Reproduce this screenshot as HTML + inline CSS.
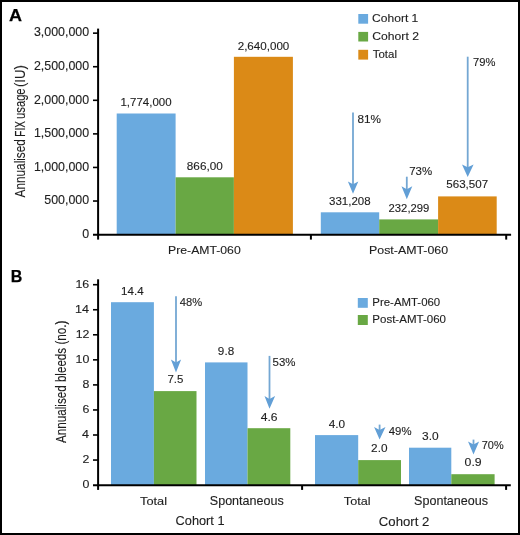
<!DOCTYPE html>
<html><head><meta charset="utf-8"><style>
html,body{margin:0;padding:0;background:#fff;}
svg{display:block;will-change:transform;}
text{font-family:"Liberation Sans",sans-serif;fill:#1e1e1e;stroke:#1e1e1e;stroke-width:0.12px;}
</style></head><body>
<svg width="520" height="535" viewBox="0 0 520 535">
<rect x="0" y="0" width="520" height="535" fill="#fff"/>
<rect x="116.7" y="113.5" width="58.90" height="121.10" fill="#6aaadf"/>
<rect x="175.6" y="177.3" width="58.30" height="57.30" fill="#69a844"/>
<rect x="233.9" y="56.8" width="59.00" height="177.80" fill="#db8a17"/>
<rect x="320.8" y="212.3" width="58.40" height="22.30" fill="#6aaadf"/>
<rect x="379.2" y="219.4" width="58.90" height="15.20" fill="#69a844"/>
<rect x="438.1" y="196.4" width="58.60" height="38.20" fill="#db8a17"/>
<rect x="111.0" y="302.2" width="42.90" height="182.90" fill="#6aaadf"/>
<rect x="153.9" y="391.1" width="42.60" height="94.00" fill="#69a844"/>
<rect x="205.0" y="362.4" width="42.50" height="122.70" fill="#6aaadf"/>
<rect x="247.5" y="428.2" width="42.80" height="56.90" fill="#69a844"/>
<rect x="315.0" y="435.1" width="43.20" height="50.00" fill="#6aaadf"/>
<rect x="358.2" y="460.1" width="42.80" height="25.00" fill="#69a844"/>
<rect x="409.0" y="447.7" width="42.30" height="37.40" fill="#6aaadf"/>
<rect x="451.3" y="474.2" width="43.30" height="10.90" fill="#69a844"/>
<line x1="98.1" y1="28.6" x2="98.1" y2="239.6" stroke="#000" stroke-width="2"/>
<line x1="93" y1="201.03" x2="98.1" y2="201.03" stroke="#000" stroke-width="1.6"/>
<line x1="93" y1="167.45" x2="98.1" y2="167.45" stroke="#000" stroke-width="1.6"/>
<line x1="93" y1="133.88" x2="98.1" y2="133.88" stroke="#000" stroke-width="1.6"/>
<line x1="93" y1="100.30" x2="98.1" y2="100.30" stroke="#000" stroke-width="1.6"/>
<line x1="93" y1="66.72" x2="98.1" y2="66.72" stroke="#000" stroke-width="1.6"/>
<line x1="93" y1="33.15" x2="98.1" y2="33.15" stroke="#000" stroke-width="1.6"/>
<line x1="93" y1="234.85" x2="511.1" y2="234.85" stroke="#000" stroke-width="2"/>
<line x1="310.9" y1="234.85" x2="310.9" y2="239.6" stroke="#000" stroke-width="2"/>
<line x1="506.2" y1="234.85" x2="506.2" y2="239.6" stroke="#000" stroke-width="2"/>
<line x1="98.1" y1="279.3" x2="98.1" y2="489.9" stroke="#000" stroke-width="2"/>
<line x1="93" y1="460.05" x2="98.1" y2="460.05" stroke="#000" stroke-width="1.6"/>
<line x1="93" y1="435.00" x2="98.1" y2="435.00" stroke="#000" stroke-width="1.6"/>
<line x1="93" y1="409.95" x2="98.1" y2="409.95" stroke="#000" stroke-width="1.6"/>
<line x1="93" y1="384.90" x2="98.1" y2="384.90" stroke="#000" stroke-width="1.6"/>
<line x1="93" y1="359.85" x2="98.1" y2="359.85" stroke="#000" stroke-width="1.6"/>
<line x1="93" y1="334.80" x2="98.1" y2="334.80" stroke="#000" stroke-width="1.6"/>
<line x1="93" y1="309.75" x2="98.1" y2="309.75" stroke="#000" stroke-width="1.6"/>
<line x1="93" y1="284.70" x2="98.1" y2="284.70" stroke="#000" stroke-width="1.6"/>
<line x1="93" y1="485.3" x2="510.8" y2="485.3" stroke="#000" stroke-width="2"/>
<line x1="302.1" y1="485.3" x2="302.1" y2="489.9" stroke="#000" stroke-width="2"/>
<line x1="506.1" y1="485.3" x2="506.1" y2="489.9" stroke="#000" stroke-width="2"/>
<line x1="353.0" y1="112.5" x2="353.0" y2="185.31" stroke="#74a7d3" stroke-width="1.8"/><path d="M347.9,181.5 L353.0,193.79999999999998 L358.3,181.5 L353.0,184.31 Z" fill="#629fd6"/>
<line x1="406.8" y1="176.7" x2="406.8" y2="190.25" stroke="#74a7d3" stroke-width="1.8"/><path d="M401.5,186.3 L406.8,199.2 L412.3,186.3 L406.8,189.25 Z" fill="#629fd6"/>
<line x1="467.7" y1="56.7" x2="467.7" y2="168.28" stroke="#74a7d3" stroke-width="1.8"/><path d="M462.0,164.4 L467.7,177.0 L473.6,164.4 L467.7,167.28 Z" fill="#629fd6"/>
<line x1="176.0" y1="296.2" x2="176.0" y2="363.53" stroke="#74a7d3" stroke-width="1.8"/><path d="M170.9,359.6 L176.0,372.40000000000003 L181.1,359.6 L176.0,362.53 Z" fill="#629fd6"/>
<line x1="269.5" y1="355.9" x2="269.5" y2="399.93" stroke="#74a7d3" stroke-width="1.8"/><path d="M264.5,396.0 L269.5,408.8 L275.1,396.0 L269.5,398.93 Z" fill="#629fd6"/>
<line x1="379.6" y1="424.6" x2="379.6" y2="430.88" stroke="#74a7d3" stroke-width="1.8"/><path d="M374.1,427.0 L379.6,439.6 L385.5,427.0 L379.6,429.88 Z" fill="#629fd6"/>
<line x1="473.5" y1="439.6" x2="473.5" y2="445.50" stroke="#74a7d3" stroke-width="1.8"/><path d="M468.0,441.5 L473.5,454.6 L479.1,441.5 L473.5,444.50 Z" fill="#629fd6"/>
<rect x="358.3" y="14.0" width="9.80" height="9.70" fill="#6aaadf"/>
<rect x="358.3" y="31.9" width="9.80" height="9.60" fill="#69a844"/>
<rect x="358.3" y="49.8" width="9.80" height="9.80" fill="#db8a17"/>
<rect x="357.8" y="298.0" width="10.00" height="9.80" fill="#6aaadf"/>
<rect x="357.8" y="315.0" width="10.00" height="10.00" fill="#69a844"/>
<text x="8.94" y="21.40" font-size="17.01" textLength="13.02" lengthAdjust="spacingAndGlyphs" style="font-weight:bold;fill:#000;stroke:#000;stroke-width:0.25px;">A</text>
<text x="82.23" y="237.90" font-size="11.89" textLength="6.90" lengthAdjust="spacingAndGlyphs" style="">0</text>
<text x="44.31" y="204.33" font-size="11.89" textLength="44.82" lengthAdjust="spacingAndGlyphs" style="">500,000</text>
<text x="33.93" y="170.75" font-size="11.89" textLength="55.16" lengthAdjust="spacingAndGlyphs" style="">1,000,000</text>
<text x="33.93" y="137.18" font-size="11.89" textLength="55.16" lengthAdjust="spacingAndGlyphs" style="">1,500,000</text>
<text x="33.93" y="103.60" font-size="11.89" textLength="55.16" lengthAdjust="spacingAndGlyphs" style="">2,000,000</text>
<text x="33.93" y="70.02" font-size="11.89" textLength="55.16" lengthAdjust="spacingAndGlyphs" style="">2,500,000</text>
<text x="33.93" y="36.45" font-size="11.89" textLength="55.16" lengthAdjust="spacingAndGlyphs" style="">3,000,000</text>
<text x="120.46" y="105.60" font-size="10.17" textLength="51.12" lengthAdjust="spacingAndGlyphs" style="">1,774,000</text>
<text x="186.82" y="169.70" font-size="10.45" textLength="35.97" lengthAdjust="spacingAndGlyphs" style="">866,00</text>
<text x="237.70" y="49.60" font-size="10.45" textLength="51.60" lengthAdjust="spacingAndGlyphs" style="">2,640,000</text>
<text x="329.05" y="204.70" font-size="10.31" textLength="41.54" lengthAdjust="spacingAndGlyphs" style="">331,208</text>
<text x="388.61" y="211.80" font-size="10.31" textLength="40.68" lengthAdjust="spacingAndGlyphs" style="">232,299</text>
<text x="446.32" y="188.10" font-size="10.60" textLength="41.80" lengthAdjust="spacingAndGlyphs" style="">563,507</text>
<text x="357.52" y="122.70" font-size="10.31" textLength="23.52" lengthAdjust="spacingAndGlyphs" style="">81%</text>
<text x="409.17" y="175.30" font-size="10.60" textLength="22.93" lengthAdjust="spacingAndGlyphs" style="">73%</text>
<text x="472.97" y="66.30" font-size="10.74" textLength="22.43" lengthAdjust="spacingAndGlyphs" style="">79%</text>
<text x="168.12" y="254.00" font-size="11.46" textLength="72.60" lengthAdjust="spacingAndGlyphs" style="">Pre-AMT-060</text>
<text x="369.09" y="254.00" font-size="11.46" textLength="78.97" lengthAdjust="spacingAndGlyphs" style="">Post-AMT-060</text>
<text x="372.11" y="22.00" font-size="10.63" textLength="46.19" lengthAdjust="spacingAndGlyphs" style="">Cohort 1</text>
<text x="372.33" y="40.10" font-size="10.76" textLength="46.59" lengthAdjust="spacingAndGlyphs" style="">Cohort 2</text>
<text x="372.72" y="57.90" font-size="11.18" textLength="24.22" lengthAdjust="spacingAndGlyphs" style="">Total</text>
<text x="10.79" y="282.20" font-size="17.15" textLength="11.54" lengthAdjust="spacingAndGlyphs" style="font-weight:bold;fill:#000;stroke:#000;stroke-width:0.25px;">B</text>
<text x="82.42" y="488.40" font-size="11.60" textLength="6.89" lengthAdjust="spacingAndGlyphs" style="">0</text>
<text x="82.61" y="463.35" font-size="11.60" textLength="6.89" lengthAdjust="spacingAndGlyphs" style="">2</text>
<text x="82.08" y="438.30" font-size="11.77" textLength="7.00" lengthAdjust="spacingAndGlyphs" style="">4</text>
<text x="82.48" y="413.25" font-size="11.60" textLength="6.89" lengthAdjust="spacingAndGlyphs" style="">6</text>
<text x="82.46" y="388.20" font-size="11.60" textLength="6.89" lengthAdjust="spacingAndGlyphs" style="">8</text>
<text x="75.50" y="363.15" font-size="11.60" textLength="13.79" lengthAdjust="spacingAndGlyphs" style="">10</text>
<text x="75.71" y="338.10" font-size="11.60" textLength="13.79" lengthAdjust="spacingAndGlyphs" style="">12</text>
<text x="75.12" y="313.05" font-size="11.77" textLength="13.99" lengthAdjust="spacingAndGlyphs" style="">14</text>
<text x="75.40" y="288.00" font-size="11.60" textLength="13.79" lengthAdjust="spacingAndGlyphs" style="">16</text>
<text x="121.14" y="294.90" font-size="10.76" textLength="22.47" lengthAdjust="spacingAndGlyphs" style="">14.4</text>
<text x="167.43" y="383.40" font-size="11.34" textLength="15.92" lengthAdjust="spacingAndGlyphs" style="">7.5</text>
<text x="217.89" y="355.40" font-size="11.17" textLength="16.28" lengthAdjust="spacingAndGlyphs" style="">9.8</text>
<text x="260.76" y="420.60" font-size="10.45" textLength="16.85" lengthAdjust="spacingAndGlyphs" style="">4.6</text>
<text x="328.75" y="428.00" font-size="10.74" textLength="16.41" lengthAdjust="spacingAndGlyphs" style="">4.0</text>
<text x="371.12" y="452.40" font-size="10.60" textLength="16.38" lengthAdjust="spacingAndGlyphs" style="">2.0</text>
<text x="422.00" y="440.40" font-size="10.60" textLength="16.59" lengthAdjust="spacingAndGlyphs" style="">3.0</text>
<text x="464.59" y="466.10" font-size="10.74" textLength="17.06" lengthAdjust="spacingAndGlyphs" style="">0.9</text>
<text x="179.77" y="305.60" font-size="10.88" textLength="22.40" lengthAdjust="spacingAndGlyphs" style="">48%</text>
<text x="272.63" y="365.60" font-size="10.88" textLength="22.95" lengthAdjust="spacingAndGlyphs" style="">53%</text>
<text x="388.78" y="434.90" font-size="10.60" textLength="22.71" lengthAdjust="spacingAndGlyphs" style="">49%</text>
<text x="481.76" y="449.00" font-size="10.74" textLength="21.87" lengthAdjust="spacingAndGlyphs" style="">70%</text>
<text x="140.06" y="504.80" font-size="11.59" textLength="27.03" lengthAdjust="spacingAndGlyphs" style="">Total</text>
<text x="209.80" y="505.00" font-size="12.03" textLength="73.94" lengthAdjust="spacingAndGlyphs" style="">Spontaneous</text>
<text x="343.83" y="504.80" font-size="11.59" textLength="26.65" lengthAdjust="spacingAndGlyphs" style="">Total</text>
<text x="414.07" y="505.00" font-size="12.03" textLength="73.99" lengthAdjust="spacingAndGlyphs" style="">Spontaneous</text>
<text x="175.61" y="525.40" font-size="11.87" textLength="48.90" lengthAdjust="spacingAndGlyphs" style="">Cohort 1</text>
<text x="378.89" y="525.60" font-size="11.87" textLength="50.47" lengthAdjust="spacingAndGlyphs" style="">Cohort 2</text>
<text x="372.33" y="306.40" font-size="11.03" textLength="67.91" lengthAdjust="spacingAndGlyphs" style="">Pre-AMT-060</text>
<text x="372.29" y="323.40" font-size="11.17" textLength="73.71" lengthAdjust="spacingAndGlyphs" style="">Post-AMT-060</text>
<text transform="translate(25.20,197.42) rotate(-90)" x="0" y="0" font-size="13.95" textLength="58.28" lengthAdjust="spacingAndGlyphs">Annualised</text>
<text transform="translate(25.20,136.72) rotate(-90)" x="0" y="0" font-size="13.95" textLength="15.64" lengthAdjust="spacingAndGlyphs">FIX</text>
<text transform="translate(25.20,118.93) rotate(-90)" x="0" y="0" font-size="13.95" textLength="30.53" lengthAdjust="spacingAndGlyphs">usage</text>
<text transform="translate(25.20,87.02) rotate(-90)" x="0" y="0" font-size="13.95" textLength="21.93" lengthAdjust="spacingAndGlyphs">(IU)</text>
<text transform="translate(66.30,442.92) rotate(-90)" x="0" y="0" font-size="13.81" textLength="122.24" lengthAdjust="spacingAndGlyphs">Annualised bleeds (no.)</text>
<rect x="1" y="1" width="518" height="533" fill="none" stroke="#000" stroke-width="2"/>
</svg>
</body></html>
